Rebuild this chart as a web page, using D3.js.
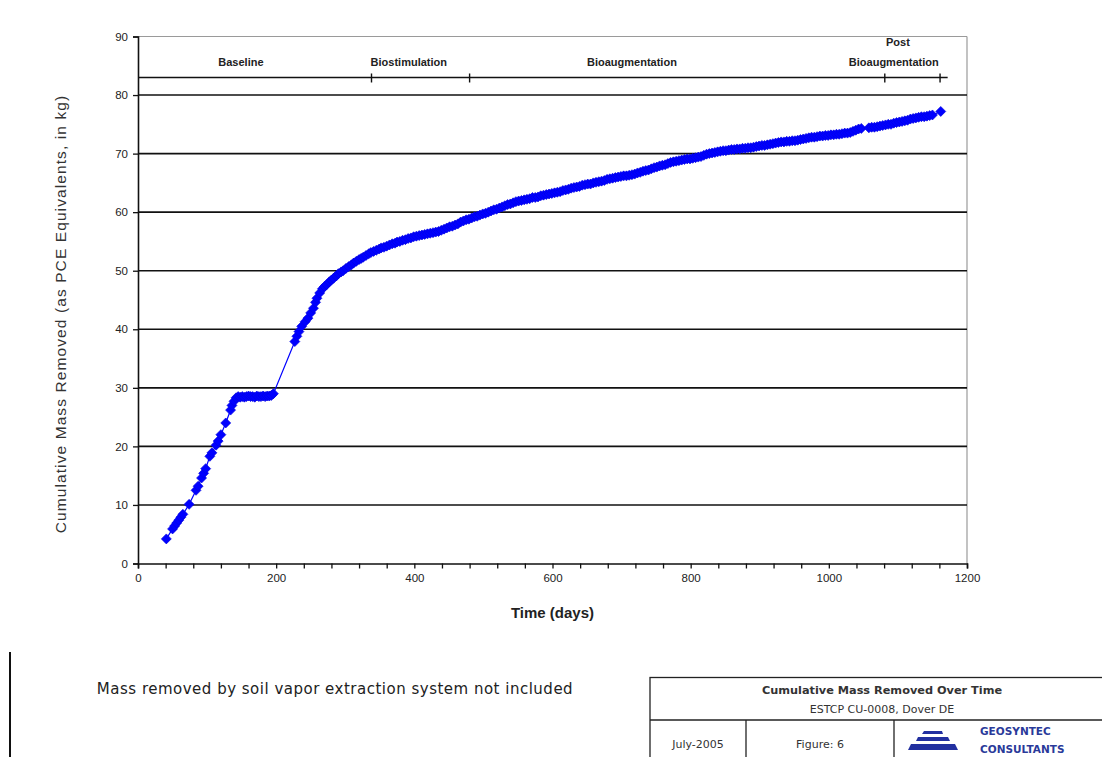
<!DOCTYPE html>
<html>
<head>
<meta charset="utf-8">
<script src="https://cdn.jsdelivr.net/npm/d3@7"></script>
<style>
  body { margin: 0; background: #fff; }
  svg { display: block; font-family: "Liberation Sans", Arial, sans-serif; }
</style>
</head>
<body>
<svg id="chart" width="1102" height="757"></svg>
<script>
// [day, cumulative mass removed (kg PCE eq.)]
const massData = [
  [41,4.2],[50,5.9],[53,6.4],[56,6.9],[59,7.4],[62,7.9],[65,8.4],[74,10.1],[84,12.5],[87,13.2],
  [92,14.6],[95,15.4],[98,16.2],[104,18.3],[107,18.9],[113,20.2],[116,20.9],[120,22.0],[127,24.0],
  [134,26.2],[136,27.0],[139,27.7],[142,28.3],[145,28.5],[148,28.4],[151,28.5],[154,28.4],[157,28.5],
  [160,28.6],[163,28.5],[166,28.5],[169,28.4],[172,28.6],[175,28.5],[178,28.5],[181,28.6],[184,28.5],
  [187,28.6],[190,28.6],[193,28.7],[196,29.0],
  [227,37.9],[230,38.8],[233,39.6],[237,40.5],[242,41.3],[246,41.9],[250,42.8],[254,43.6],[257,44.6],
  [259,45.3],[263,46.2],[267,46.9],[270,47.3],[273,47.6],[277,48.1],[280,48.4],[283,48.7],[287,49.1],
  [290,49.5],[294,49.8],[297,50.0],[301,50.4],[305,50.7],[309,51.0],[312,51.3],[316,51.6],[320,51.9],
  [323,52.1],[326,52.3],[330,52.6],[334,52.9],[337,53.1],[341,53.3],[345,53.5],[349,53.7],[352,53.9],
  [356,54.0],[360,54.2],[364,54.4],[368,54.6],[372,54.7],[375,54.9],[379,55.0],[383,55.2],[387,55.3],
  [391,55.5],[395,55.6],[399,55.8],[403,55.9],[407,56.0],[411,56.1],[415,56.2],[419,56.3],[423,56.4],
  [427,56.5],[431,56.6],[435,56.7],[439,56.9],[443,57.1],[447,57.3],[451,57.5],[455,57.6],[459,57.8],
  [463,58.0],[467,58.3],[471,58.5],[475,58.7],[479,58.8],[483,59.0],[487,59.2],[491,59.3],[495,59.5],
  [499,59.7],[503,59.8],[507,60.0],[511,60.2],[515,60.4],[519,60.5],[523,60.7],[527,60.9],[531,61.1],
  [535,61.3],[539,61.4],[543,61.6],[547,61.8],[551,61.9],[555,62.0],[559,62.1],[563,62.2],[567,62.3],
  [571,62.5],[575,62.5],[579,62.6],[583,62.8],[587,62.9],[591,63.0],[595,63.1],[599,63.2],[603,63.3],
  [607,63.4],[611,63.5],[615,63.7],[619,63.8],[623,63.9],[627,64.1],[631,64.2],[635,64.3],[639,64.4],
  [643,64.6],[647,64.7],[651,64.8],[655,64.8],[659,65.0],[663,65.1],[667,65.2],[671,65.3],[675,65.4],
  [679,65.6],[683,65.7],[687,65.8],[691,65.9],[695,66.0],[699,66.1],[703,66.2],[707,66.2],[711,66.3],
  [715,66.4],[719,66.5],[723,66.7],[727,66.8],[731,67.0],[735,67.1],[739,67.2],[743,67.4],[747,67.6],
  [751,67.7],[755,67.9],[759,68.0],[763,68.1],[767,68.3],[771,68.5],[775,68.6],[779,68.7],[783,68.8],
  [787,68.9],[791,69.0],[795,69.1],[799,69.1],[803,69.2],[807,69.3],[811,69.4],[815,69.5],[819,69.7],
  [823,69.9],[827,70.0],[831,70.1],[835,70.2],[839,70.3],[843,70.4],[847,70.5],[851,70.5],[855,70.6],
  [859,70.7],[863,70.7],[867,70.8],[871,70.8],[875,70.9],[879,70.9],[883,71.0],[887,71.0],[891,71.1],
  [895,71.2],[899,71.3],[903,71.4],[907,71.4],[911,71.5],[915,71.6],[919,71.7],[923,71.8],[927,71.9],
  [931,72.0],[935,72.0],[939,72.1],[943,72.1],[947,72.2],[951,72.2],[955,72.3],[959,72.4],[963,72.5],
  [967,72.6],[971,72.7],[975,72.8],[979,72.8],[983,72.9],[987,73.0],[991,73.0],[995,73.1],[999,73.1],
  [1003,73.2],[1007,73.2],[1011,73.3],[1015,73.3],[1019,73.4],[1023,73.5],[1027,73.5],[1031,73.6],
  [1035,73.8],[1039,74.0],[1043,74.2],[1047,74.3],[1058,74.4],[1062,74.5],[1066,74.5],[1070,74.6],
  [1074,74.7],[1078,74.8],[1082,74.9],[1086,75.0],[1090,75.0],[1094,75.2],[1098,75.3],[1102,75.4],
  [1106,75.5],[1110,75.6],[1114,75.7],[1118,75.9],[1122,76.0],[1126,76.1],[1130,76.2],[1134,76.3],
  [1138,76.3],[1142,76.4],[1146,76.5],[1150,76.6],[1162,77.2]
];

// phase bar across the top of the plot
const phaseLineLevel = 83;
const phaseLineEnd = 1172;
const phaseTicks = [338, 480, 1081, 1161];
const phaseLabels = [
  { text: "Baseline",        day: 149,  value: 85.0 },
  { text: "Biostimulation",  day: 392,  value: 85.0 },
  { text: "Bioaugmentation", day: 715,  value: 85.0 },
  { text: "Post",            day: 1100, value: 88.3 },
  { text: "Bioaugmentation", day: 1094, value: 85.0 }
];

const xTickLabels = [0, 200, 400, 600, 800, 1000, 1200];
const yTickLabels = [0, 10, 20, 30, 40, 50, 60, 70, 80, 90];
const gridValues  = [10, 20, 30, 40, 50, 60, 70, 80];

const note = "Mass removed by soil vapor extraction system not included";
const titleBlock = {
  title: "Cumulative Mass Removed Over Time",
  project: "ESTCP CU-0008, Dover DE",
  date: "July-2005",
  figure: "Figure:  6",
  company: ["GEOSYNTEC", "CONSULTANTS"]
};

class MassChart {
  constructor(_config, _data) {
    this.config = {
      parentElement: _config.parentElement,
      margin: { top: 36.5, right: 135, bottom: 193.5, left: 138 }
    };
    this.data = _data;
    this.initVis();
  }

  initVis() {
    let vis = this;

    vis.svg = d3.select(vis.config.parentElement);
    vis.width  = +vis.svg.attr("width")  - vis.config.margin.left - vis.config.margin.right;
    vis.height = +vis.svg.attr("height") - vis.config.margin.top  - vis.config.margin.bottom;

    vis.g = vis.svg.append("g")
      .attr("transform", `translate(${vis.config.margin.left},${vis.config.margin.top})`);

    vis.xScale = d3.scaleLinear().domain([0, 1200]).range([0, vis.width]);
    vis.yScale = d3.scaleLinear().domain([0, 90]).range([vis.height, 0]);

    vis.renderVis();
    vis.renderFooter();
  }

  renderVis() {
    let vis = this;
    const x = vis.xScale, y = vis.yScale;

    // plot frame (top/right grey)
    vis.g.append("line")
      .attr("x1", 0).attr("x2", vis.width).attr("y1", y(90)).attr("y2", y(90))
      .attr("stroke", "#9a9a9a").attr("stroke-width", 1.2);
    vis.g.append("line")
      .attr("x1", x(1200)).attr("x2", x(1200)).attr("y1", y(90)).attr("y2", y(0))
      .attr("stroke", "#9a9a9a").attr("stroke-width", 1.2);

    // gridlines
    vis.g.selectAll(".grid")
      .data(gridValues)
      .join("line")
        .attr("class", "grid")
        .attr("x1", 0).attr("x2", vis.width)
        .attr("y1", d => y(d)).attr("y2", d => y(d))
        .attr("stroke", "#111").attr("stroke-width", 1.6);

    // phase bar
    vis.g.append("line")
      .attr("x1", x(0)).attr("x2", x(phaseLineEnd))
      .attr("y1", y(phaseLineLevel)).attr("y2", y(phaseLineLevel))
      .attr("stroke", "#111").attr("stroke-width", 1.6);
    vis.g.selectAll(".phase-tick")
      .data(phaseTicks)
      .join("line")
        .attr("class", "phase-tick")
        .attr("x1", d => x(d)).attr("x2", d => x(d))
        .attr("y1", y(phaseLineLevel) - 4).attr("y2", y(phaseLineLevel) + 5)
        .attr("stroke", "#111").attr("stroke-width", 1.4);
    vis.g.selectAll(".phase-label")
      .data(phaseLabels)
      .join("text")
        .attr("class", "phase-label")
        .attr("x", d => x(d.day))
        .attr("y", d => y(d.value))
        .attr("text-anchor", "middle")
        .attr("font-size", 11)
        .attr("font-weight", "bold")
        .attr("fill", "#222")
        .text(d => d.text);

    // axes
    const xAxis = d3.axisBottom(x)
      .tickValues(d3.range(0, 1201, 40))
      .tickSize(5)
      .tickFormat(d => xTickLabels.includes(d) ? d : "");
    vis.g.append("g")
      .attr("transform", `translate(0,${vis.height})`)
      .call(xAxis)
      .call(g => g.select(".domain").attr("stroke", "#111").attr("stroke-width", 1.6))
      .call(g => g.selectAll(".tick line").attr("stroke", "#111").attr("stroke-width", 1.3))
      .call(g => g.selectAll(".tick text")
        .attr("font-family", "Liberation Sans, Arial, sans-serif")
        .attr("font-size", 11.5).attr("fill", "#222").attr("dy", "0.95em"));

    const yAxis = d3.axisLeft(y)
      .tickValues(yTickLabels)
      .tickSize(5)
      .tickPadding(5);
    vis.g.append("g")
      .call(yAxis)
      .call(g => g.select(".domain").attr("stroke", "#111").attr("stroke-width", 1.6))
      .call(g => g.selectAll(".tick line").attr("stroke", "#111").attr("stroke-width", 1.3))
      .call(g => g.selectAll(".tick text")
        .attr("font-family", "Liberation Sans, Arial, sans-serif")
        .attr("font-size", 11.5).attr("fill", "#222"));

    // axis titles
    vis.g.append("text")
      .attr("transform", `translate(-72,${y(45) + 14}) rotate(-90)`)
      .attr("text-anchor", "middle")
      .attr("font-size", 15.5)
      .attr("letter-spacing", 1.1)
      .attr("fill", "#333")
      .text("Cumulative Mass Removed (as PCE Equivalents, in kg)");
    vis.g.append("text")
      .attr("x", x(600))
      .attr("y", vis.height + 54)
      .attr("text-anchor", "middle")
      .attr("font-size", 15)
      .attr("font-weight", "bold")
      .attr("fill", "#222")
      .text("Time (days)");

    // series line + diamond markers
    const line = d3.line().x(d => x(d[0])).y(d => y(d[1]));
    vis.g.append("path")
      .datum(vis.data)
      .attr("d", line)
      .attr("fill", "none")
      .attr("stroke", "#0000ff")
      .attr("stroke-width", 1.2);

    const diamond = d3.symbol(d3.symbolSquare, 50);
    vis.g.selectAll(".marker")
      .data(vis.data)
      .join("path")
        .attr("class", "marker")
        .attr("d", diamond)
        .attr("transform", d => `translate(${x(d[0])},${y(d[1])}) rotate(45)`)
        .attr("fill", "#0000ff")
        .attr("stroke", "#0000e0")
        .attr("stroke-width", 0.6);
  }

  renderFooter() {
    let vis = this;
    const foot = vis.svg.append("g")
      .attr("font-family", "'DejaVu Sans', sans-serif");

    // page edge on the left
    foot.append("line")
      .attr("x1", 10).attr("x2", 10).attr("y1", 652).attr("y2", 757)
      .attr("stroke", "#111").attr("stroke-width", 2);

    foot.append("text")
      .attr("x", 335).attr("y", 694)
      .attr("text-anchor", "middle")
      .attr("font-size", 15)
      .attr("letter-spacing", 0.5)
      .attr("fill", "#222")
      .text(note);

    // title block
    const box = foot.append("g").attr("stroke", "#222").attr("stroke-width", 1.3).attr("fill", "none");
    box.append("rect").attr("x", 650).attr("y", 677.5).attr("width", 460).attr("height", 90);
    box.append("line").attr("x1", 650).attr("x2", 1102).attr("y1", 720).attr("y2", 720);
    box.append("line").attr("x1", 746).attr("x2", 746).attr("y1", 720).attr("y2", 757);
    box.append("line").attr("x1", 894).attr("x2", 894).attr("y1", 720).attr("y2", 757);

    foot.append("text").attr("x", 882).attr("y", 694).attr("text-anchor", "middle")
      .attr("font-size", 11.3).attr("font-weight", "bold").attr("fill", "#333")
      .text(titleBlock.title);
    foot.append("text").attr("x", 882).attr("y", 713).attr("text-anchor", "middle")
      .attr("font-size", 11).attr("fill", "#333")
      .text(titleBlock.project);
    foot.append("text").attr("x", 698).attr("y", 748).attr("text-anchor", "middle")
      .attr("font-size", 11).attr("fill", "#333")
      .text(titleBlock.date);
    foot.append("text").attr("x", 820).attr("y", 748).attr("text-anchor", "middle")
      .attr("font-size", 11).attr("fill", "#333")
      .text(titleBlock.figure);

    // logo: stepped bars
    const logo = foot.append("g").attr("fill", "#2230a0");
    logo.append("path").attr("d", "M924,731 L942,731 L943,734 L922,734 Z");
    logo.append("path").attr("d", "M918,737 L948,737 L950,741 L916,741 Z");
    logo.append("path").attr("d", "M911,744 L955,744 L958,750 L908,750 Z");

    foot.selectAll(".company")
      .data(titleBlock.company)
      .join("text")
        .attr("class", "company")
        .attr("x", 980)
        .attr("y", (d, i) => 735 + i * 18)
        .attr("font-size", 10.5)
        .attr("font-weight", "bold")
        .attr("fill", "#2a3a9a")
        .text(d => d);
  }
}

new MassChart({ parentElement: "#chart" }, massData);
</script>
</body>
</html>
